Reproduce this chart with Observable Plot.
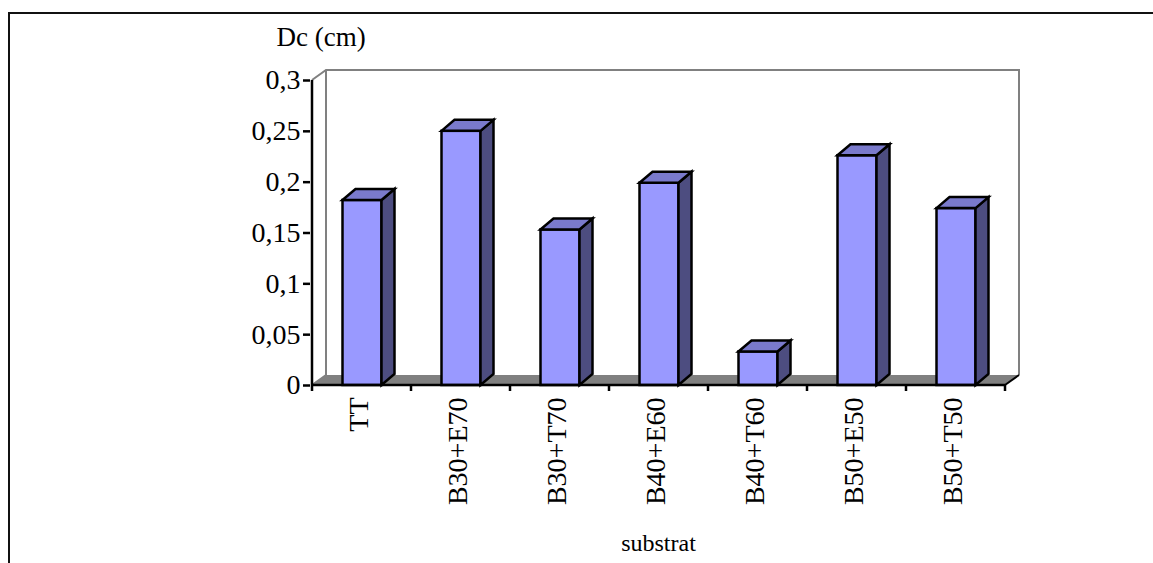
<!DOCTYPE html>
<html>
<head>
<meta charset="utf-8">
<script src="https://cdn.jsdelivr.net/npm/d3@7"></script>
<script src="https://cdn.jsdelivr.net/npm/@observablehq/plot@0.6"></script>
<style>
  html, body { margin: 0; padding: 0; background: #fff; }
  #chart { position: relative; width: 1153px; height: 563px; overflow: hidden; }
  #chart .sheet {
    position: absolute; left: 8px; top: 12px; right: 0; bottom: 0;
    border-top: 2px solid #111; border-left: 2px solid #111; pointer-events: none;
  }
  #chart svg { position: absolute; left: 0; top: 0; }
</style>
</head>
<body>
<div id="chart"><div class="sheet"></div></div>
<script>
// Diamètre au collet (Dc) par substrat
const categories = ["TT", "B30+E70", "B30+T70", "B40+E60", "B40+T60", "B50+E50", "B50+T50"];
const values = [0.182, 0.25, 0.153, 0.199, 0.033, 0.226, 0.174];
const yTicks = [0, 0.05, 0.1, 0.15, 0.2, 0.25, 0.3];
const yTickLabels = ["0", "0,05", "0,1", "0,15", "0,2", "0,25", "0,3"];
const yLabel = "Dc (cm)";
const xLabel = "substrat";

const rows = categories.map((substrat, i) => ({substrat, dc: values[i]}));

// oblique projection used for the 3-D look (pixels)
const wallDepth = {dx: 14, dy: -10};
const barDepth = {dx: 13, dy: -11};
const barInset = {left: 30.5, right: 29.5};

const colors = {
  front: "#9999FF",
  top: "#7A7ACC",
  side: "#4D4D80",
  floor: "#808080",
  wall: "#808080"
};

const pts = (arr) => arr.map(([a, b]) => `${a},${b}`).join(" ");

function frameBounds(x, y) {
  const bw = x.bandwidth ? x.bandwidth() : 0;
  const [yMin, yMax] = y.domain();
  return {
    bw,
    x0: x(categories[0]),
    x1: x(categories[categories.length - 1]) + bw,
    y0: y(yMin),
    yTop: y(yMax)
  };
}

// back wall, left wall and floor
function walls(index, {x, y}) {
  const {x0, x1, y0, yTop} = frameBounds(x, y);
  const {dx, dy} = wallDepth;
  const g = d3.create("svg:g");
  g.append("polygon")
    .attr("points", pts([[x0 + dx, yTop + dy], [x1 + dx, yTop + dy], [x1 + dx, y0 + dy], [x0 + dx, y0 + dy]]))
    .attr("fill", "white");
  g.append("polygon")
    .attr("points", pts([[x0, y0], [x0 + dx, y0 + dy], [x1 + dx, y0 + dy], [x1, y0]]))
    .attr("fill", colors.floor);
  g.append("polyline")
    .attr("points", pts([[x0, yTop], [x0 + dx, yTop + dy], [x1 + dx, yTop + dy], [x1 + dx, y0 + dy]]))
    .attr("fill", "none").attr("stroke", colors.wall).attr("stroke-width", 2);
  g.append("polyline")
    .attr("points", pts([[x0 + dx, yTop + dy], [x0 + dx, y0 + dy], [x0, y0]]))
    .attr("fill", "none").attr("stroke", colors.wall).attr("stroke-width", 2);
  return g.node();
}

// side and top faces of each column
function barFaces(index, {x, y}) {
  const {bw, y0} = frameBounds(x, y);
  const {dx, dy} = barDepth;
  const g = d3.create("svg:g")
    .attr("stroke", "black").attr("stroke-width", 2.5).attr("stroke-linejoin", "miter");
  for (const d of rows) {
    const xl = x(d.substrat) + barInset.left;
    const xr = x(d.substrat) + bw - barInset.right;
    const yv = y(d.dc);
    g.append("polygon")
      .attr("points", pts([[xr, y0], [xr + dx, y0 + dy], [xr + dx, yv + dy], [xr, yv]]))
      .attr("fill", colors.side);
    g.append("polygon")
      .attr("points", pts([[xl, yv], [xl + dx, yv + dy], [xr + dx, yv + dy], [xr, yv]]))
      .attr("fill", colors.top);
  }
  return g.node();
}

// axis lines and category separators
function axisLines(index, {x, y}) {
  const {bw, x0, x1, y0, yTop} = frameBounds(x, y);
  const tick = 6;
  const g = d3.create("svg:g").attr("stroke", "black").attr("stroke-width", 2.5).attr("fill", "none");
  g.append("line").attr("x1", x0).attr("x2", x0).attr("y1", yTop).attr("y2", y0 + tick);
  g.append("line").attr("x1", x0).attr("x2", x1).attr("y1", y0).attr("y2", y0);
  g.append("line").attr("x1", x1).attr("x2", x1 + wallDepth.dx).attr("y1", y0).attr("y2", y0 + wallDepth.dy)
    .attr("stroke-width", 2);
  for (const c of categories) {
    const xe = x(c) + bw;
    g.append("line").attr("x1", xe).attr("x2", xe).attr("y1", y0).attr("y2", y0 + tick);
  }
  return g.node();
}

const plot = Plot.plot({
  width: 1153,
  height: 563,
  marginLeft: 310,
  marginRight: 147,
  marginTop: 80,
  marginBottom: 178,
  style: {
    fontFamily: "'Liberation Serif', 'Times New Roman', serif",
    fontSize: "28px",
    background: "transparent",
    color: "black",
    overflow: "visible"
  },
  x: {type: "band", domain: categories, padding: 0},
  y: {domain: [0, 0.3]},
  marks: [
    walls,
    Plot.barY(rows, {
      x: "substrat",
      y: "dc",
      fill: colors.front,
      stroke: "black",
      strokeWidth: 2.5,
      insetLeft: barInset.left,
      insetRight: barInset.right
    }),
    barFaces,
    axisLines,
    Plot.axisY(yTicks, {
      anchor: "left",
      tickSize: 7,
      tickPadding: 3,
      strokeWidth: 2.5,
      tickFormat: (d) => yTickLabels[yTicks.indexOf(d)],
      fontSize: 28,
      label: null
    }),
    Plot.axisX({
      anchor: "bottom",
      tickSize: 0,
      tickPadding: 12,
      tickRotate: -90,
      dx: -3,
      fontSize: 28,
      label: null
    }),
    Plot.text([yLabel], {
      text: (d) => d,
      frameAnchor: "top-left",
      textAnchor: "start",
      lineAnchor: "bottom",
      dx: -34,
      dy: -35,
      fontSize: 27
    }),
    Plot.text([xLabel], {
      text: (d) => d,
      frameAnchor: "bottom",
      lineAnchor: "bottom",
      dy: 165,
      fontSize: 24
    })
  ]
});

document.getElementById("chart").appendChild(plot);
</script>
</body>
</html>
